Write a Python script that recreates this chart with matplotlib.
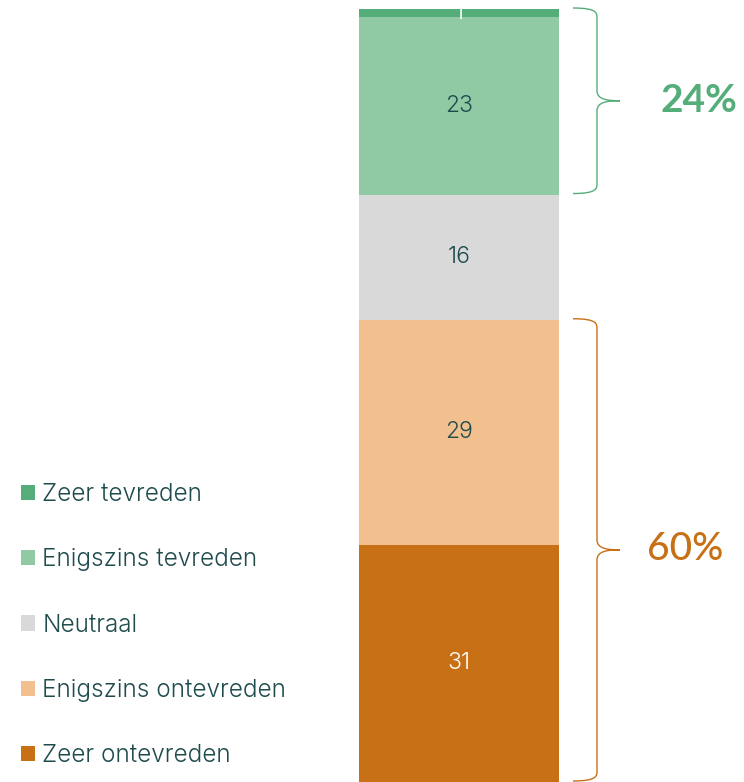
import matplotlib
matplotlib.use("Agg")
import matplotlib.pyplot as plt
from matplotlib.path import Path
from matplotlib.patches import PathPatch, Patch

categories = ["Zeer ontevreden", "Enigszins ontevreden", "Neutraal",
              "Enigszins tevreden", "Zeer tevreden"]
values = [30.7, 29.1, 16.2, 23.0, 1.0]
colors = ["#c87016", "#f2c08e", "#d9d9d9", "#8fcaa5", "#55ad7a"]
label_colors = ["white", "#1f4b4d", "#1f4b4d", "#1f4b4d", "white"]
group_labels = ["60%", "24%"]
group_ranges = [(0, 2), (3, 5)]  # category index ranges for braces
group_colors = ["#c87016", "#55ad7a"]
group_weights = [500, "bold"]
group_offsets = [27, 41]  # px from brace tip

W, H = 744, 782
fig = plt.figure(figsize=(W / 100, H / 100), dpi=100)
bar_left, bar_w = 359, 200
y_bot, y_top = 782, 9
ax = fig.add_axes([0, (H - y_bot) / H, 1, (y_bot - y_top) / H])
ax.set_xlim(-bar_left / bar_w, (W - bar_left) / bar_w)
ax.set_ylim(0, sum(values))
ax.axis("off")

font = "Inter"
txt_color = "#1f4b4d"
bottom = 0
handles = []
for cat, v, c, lc in zip(categories, values, colors, label_colors):
    ax.bar(0, v, width=1, bottom=bottom, color=c, align="edge", linewidth=0)
    ax.text(0.5, bottom + v / 2, f"{v:.0f}", ha="center", va="center",
            fontsize=16.5, color=lc, family=font, weight=300)
    bottom += v
    handles.append(Patch(facecolor=c, label=cat))

# braces
fig.canvas.draw()
def brace(y0, y1, color):
    x0 = bar_left + bar_w + 14   # px
    xs = x0 + 24
    xt = x0 + 47
    p0 = ax.transData.transform((0, y0))[1] + 1
    p1 = ax.transData.transform((0, y1))[1] + 1
    pm = (p0 + p1) / 2
    r = 5
    verts = [(x0, p1), (xs, p1), (xs, p1 - r), (xs, p1 - r * 2),
             (xs, pm + r * 2), (xs, pm + 1), (xt - 12, pm), (xt, pm),
             (xt - 12, pm), (xs, pm - 1), (xs, pm - r * 2),
             (xs, p0 + r * 2), (xs, p0 + r), (xs, p0), (x0, p0)]
    codes = [Path.MOVETO, Path.CURVE4, Path.CURVE4, Path.CURVE4,
             Path.LINETO, Path.CURVE4, Path.CURVE4, Path.CURVE4,
             Path.CURVE4, Path.CURVE4, Path.CURVE4,
             Path.LINETO, Path.CURVE4, Path.CURVE4, Path.CURVE4]
    fig.add_artist(PathPatch(Path(verts, codes), transform=None, fill=False,
                             edgecolor=color, linewidth=1.0))
    return xt, pm

cum = [0]
for v in values:
    cum.append(cum[-1] + v)
for (i0, i1), lab, col, wt, off in zip(group_ranges, group_labels,
                                       group_colors, group_weights,
                                       group_offsets):
    y0, y1 = cum[i0], cum[i1]
    xt, pm = brace(y0, y1, col)
    fig.text((xt + off) / W, pm / H, lab, ha="left", va="center",
             fontsize=28, color=col, family="Lato", weight=wt)

fig.legend(handles=handles[::-1], loc="upper left",
           bbox_to_anchor=(21 / W, 1 - 483 / H), frameon=False,
           prop={"family": font, "size": 17.5, "weight": 300},
           labelcolor=txt_color,
           handlelength=0.58, handleheight=0.58, handletextpad=0.3,
           labelspacing=1.74, borderpad=0, borderaxespad=0)

fig.savefig("out.png", dpi=100)
